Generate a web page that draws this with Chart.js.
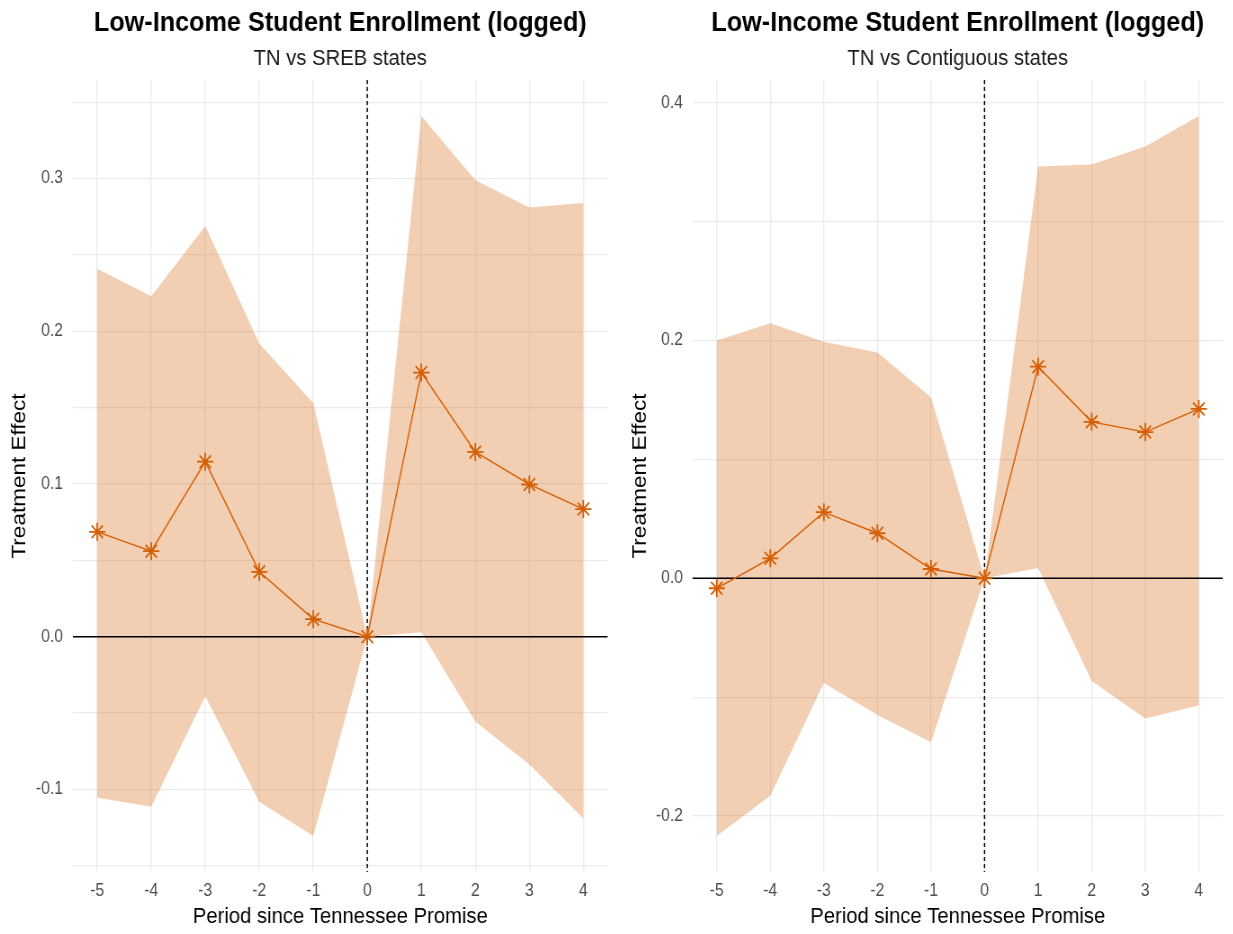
<!DOCTYPE html>
<html>
<head>
<meta charset="utf-8">
<script src="https://cdn.jsdelivr.net/npm/chart.js@4.4.1/dist/chart.umd.min.js"></script>
<style>
  html, body { margin: 0; padding: 0; background: #ffffff; overflow: hidden; }
  .panel { position: absolute; top: 0; transform-origin: 0 0; }
  .panel canvas { display: block; }
</style>
</head>
<body>
<div id="panelSreb" class="panel"><canvas id="chartSreb"></canvas></div>
<div id="panelContig" class="panel"><canvas id="chartContig"></canvas></div>
<script>
// ---- data -------------------------------------------------------------
const periods = [-5, -4, -3, -2, -1, 0, 1, 2, 3, 4];

// TN vs SREB states
const srebEstimate = [0.0687, 0.0560, 0.1146, 0.0425, 0.0115, 0, 0.1730, 0.1210, 0.0997, 0.0836];
const srebUpper    = [0.2410, 0.2230, 0.2690, 0.1920, 0.1530, 0, 0.3410, 0.2990, 0.2810, 0.2840];
const srebLower    = [-0.1054, -0.1114, -0.0390, -0.1080, -0.1305, 0, 0.0030, -0.0555, -0.0836, -0.1190];

// TN vs Contiguous states
const contigEstimate = [-0.0084, 0.0168, 0.0556, 0.0379, 0.0078, 0, 0.1780, 0.1316, 0.1230, 0.1425];
const contigUpper    = [0.2000, 0.2146, 0.1990, 0.1900, 0.1523, 0, 0.3465, 0.3480, 0.3633, 0.3889];
const contigLower    = [-0.2168, -0.1830, -0.0880, -0.1150, -0.1380, 0, 0.0087, -0.0865, -0.1180, -0.1070];

// axis ticks
const xTickValues = [-5, -4, -3, -2, -1, 0, 1, 2, 3, 4];
const srebYTicks = [-0.1, 0, 0.1, 0.2, 0.3];
const srebYTickLabels = ['-0.1', '0.0', '0.1', '0.2', '0.3'];
const srebYGrid = [-0.15, -0.1, -0.05, 0, 0.05, 0.1, 0.15, 0.2, 0.25, 0.3, 0.35];
const contigYTicks = [-0.2, 0, 0.2, 0.4];
const contigYTickLabels = ['-0.2', '0.0', '0.2', '0.4'];
const contigYGrid = [-0.2, -0.1, 0, 0.1, 0.2, 0.3, 0.4];

// reference lines
const noEffect = 0;
const promiseStart = 0;

// text
const mainTitle = 'Low-Income Student Enrollment (logged)';
const xTitle = 'Period since Tennessee Promise';
const yTitle = 'Treatment Effect';

// ---- layout & style ---------------------------------------------------
const SX = 0.9;           // horizontal compression of each panel
const H = 934;
const AREA_TOP = 80, AREA_BOTTOM = 872;
const FONT = "'Liberation Sans', Arial, sans-serif";
const TITLE_SIZE = 28, SUB_SIZE = 22.5, AXIS_TITLE_SIZE = 22.5, TICK_SIZE = 17.5;
const LINE_COLOR = '#D55E00';
const BAND_COLOR = 'rgba(213, 94, 0, 0.3)';
const GRID_COLOR = '#ebebeb';

function expandRange(lo, hi) {
  const pad = 0.05 * (hi - lo);
  return [lo - pad, hi + pad];
}

const refLines = {
  id: 'refLines',
  afterDatasetDraw(chart, args) {
    if (args.index !== 1) return;
    const { ctx, chartArea: a, scales: { x, y } } = chart;
    ctx.save();
    ctx.beginPath();
    ctx.rect(a.left, a.top, a.right - a.left, a.bottom - a.top);
    ctx.clip();
    const y0 = y.getPixelForValue(noEffect);
    ctx.strokeStyle = '#000000';
    ctx.lineWidth = 1.4;
    ctx.beginPath();
    ctx.moveTo(a.left, y0);
    ctx.lineTo(a.right, y0);
    ctx.stroke();
    const x0 = x.getPixelForValue(promiseStart);
    ctx.lineWidth = 1.5;
    ctx.setLineDash([4, 3]);
    ctx.beginPath();
    ctx.moveTo(x0, a.top);
    ctx.lineTo(x0, a.bottom);
    ctx.stroke();
    ctx.restore();
  }
};

const panelTitles = {
  id: 'panelTitles',
  afterDraw(chart, args, opts) {
    const { ctx, chartArea: a } = chart;
    const cx = (a.left + a.right) / 2;
    ctx.save();
    ctx.textAlign = 'center';
    ctx.textBaseline = 'alphabetic';
    ctx.fillStyle = '#000000';
    ctx.font = `bold ${TITLE_SIZE}px ${FONT}`;
    ctx.fillText(opts.text, cx, 31);
    ctx.fillStyle = '#1a1a1a';
    ctx.font = `${SUB_SIZE}px ${FONT}`;
    ctx.fillText(opts.subtitle, cx, 65);
    ctx.restore();
  }
};

function labelFor(value, ticks, labels) {
  for (let i = 0; i < ticks.length; i++) {
    if (Math.abs(ticks[i] - value) < 1e-9) return labels[i];
  }
  return '';
}

function buildPanel(p) {
  const cw = Math.round(p.screenWidth / SX);
  const areaLeft = Math.round((p.areaLeft - p.screenLeft) / SX);
  const areaRight = (p.areaRight - p.screenLeft) / SX;
  const axisTitleLH = AXIS_TITLE_SIZE * 1.2;
  const tickLH = TICK_SIZE * 1.2;
  const yTitlePad = (p.yTitleX - p.screenLeft) / SX - axisTitleLH / 2;
  const yTickPad = areaLeft - (p.yLabelRight - p.screenLeft) / SX;
  const xTickPad = 891 - AREA_BOTTOM - tickLH / 2;
  const xTitlePad = H - 917 - axisTitleLH / 2;

  const box = document.getElementById(p.box);
  box.style.left = p.screenLeft + 'px';
  box.style.width = cw + 'px';
  box.style.height = H + 'px';
  box.style.transform = `scaleX(${SX})`;
  const canvas = document.getElementById(p.canvas);
  canvas.width = cw;
  canvas.height = H;
  canvas.style.width = cw + 'px';
  canvas.style.height = H + 'px';

  const [xMin, xMax] = expandRange(Math.min(...periods), Math.max(...periods));
  const [yMin, yMax] = expandRange(Math.min(...p.lower), Math.max(...p.upper));

  const pts = arr => periods.map((x, i) => ({ x, y: arr[i] }));

  new Chart(canvas, {
    type: 'line',
    data: {
      datasets: [
        {
          label: 'estimate',
          data: pts(p.estimate),
          borderColor: LINE_COLOR,
          borderWidth: 1.4,
          pointStyle: 'star',
          pointRadius: 9,
          pointBorderWidth: 1.8,
          pointBorderColor: LINE_COLOR,
          pointBackgroundColor: LINE_COLOR,
          fill: false,
          tension: 0
        },
        {
          label: 'upper',
          data: pts(p.upper),
          borderColor: 'rgba(0,0,0,0)',
          borderWidth: 0,
          pointRadius: 0,
          backgroundColor: BAND_COLOR,
          fill: '+1',
          tension: 0
        },
        {
          label: 'lower',
          data: pts(p.lower),
          borderColor: 'rgba(0,0,0,0)',
          borderWidth: 0,
          pointRadius: 0,
          fill: false,
          tension: 0
        }
      ]
    },
    options: {
      responsive: false,
      animation: false,
      devicePixelRatio: 1,
      layout: { padding: { left: 0, right: cw - areaRight, top: AREA_TOP, bottom: 0 } },
      plugins: {
        legend: { display: false },
        tooltip: { enabled: false },
        panelTitles: { text: mainTitle, subtitle: p.subtitle }
      },
      scales: {
        x: {
          type: 'linear',
          min: xMin,
          max: xMax,
          border: { display: false },
          grid: { color: GRID_COLOR, lineWidth: 1.3, drawTicks: false },
          afterBuildTicks: s => { s.ticks = xTickValues.map(v => ({ value: v })); },
          afterFit: s => { s.height = H - AREA_BOTTOM; },
          ticks: {
            autoSkip: false,
            maxRotation: 0,
            padding: xTickPad,
            color: '#4d4d4d',
            font: { family: FONT, size: TICK_SIZE },
            callback: v => String(v)
          },
          title: {
            display: true,
            text: xTitle,
            color: '#000000',
            font: { family: FONT, size: AXIS_TITLE_SIZE },
            padding: { top: 0, bottom: xTitlePad }
          }
        },
        y: {
          type: 'linear',
          min: yMin,
          max: yMax,
          border: { display: false },
          grid: { color: GRID_COLOR, lineWidth: 1.3, drawTicks: false },
          afterBuildTicks: s => { s.ticks = p.yGrid.map(v => ({ value: v })); },
          afterFit: s => { s.width = areaLeft; },
          ticks: {
            autoSkip: false,
            padding: yTickPad,
            color: '#4d4d4d',
            font: { family: FONT, size: TICK_SIZE },
            callback: v => labelFor(v, p.yTicks, p.yTickLabels)
          },
          title: {
            display: true,
            text: yTitle,
            color: '#000000',
            font: { family: FONT, size: AXIS_TITLE_SIZE },
            padding: { top: yTitlePad, bottom: 0 }
          }
        }
      }
    },
    plugins: [refLines, panelTitles]
  });
}

buildPanel({
  box: 'panelSreb', canvas: 'chartSreb',
  screenLeft: 0, screenWidth: 617,
  areaLeft: 73, areaRight: 611, yTitleX: 20, yLabelRight: 63,
  subtitle: 'TN vs SREB states',
  estimate: srebEstimate, upper: srebUpper, lower: srebLower,
  yTicks: srebYTicks, yTickLabels: srebYTickLabels, yGrid: srebYGrid
});

buildPanel({
  box: 'panelContig', canvas: 'chartContig',
  screenLeft: 617, screenWidth: 616,
  areaLeft: 692.5, areaRight: 1228, yTitleX: 640, yLabelRight: 683,
  subtitle: 'TN vs Contiguous states',
  estimate: contigEstimate, upper: contigUpper, lower: contigLower,
  yTicks: contigYTicks, yTickLabels: contigYTickLabels, yGrid: contigYGrid
});
</script>
</body>
</html>
